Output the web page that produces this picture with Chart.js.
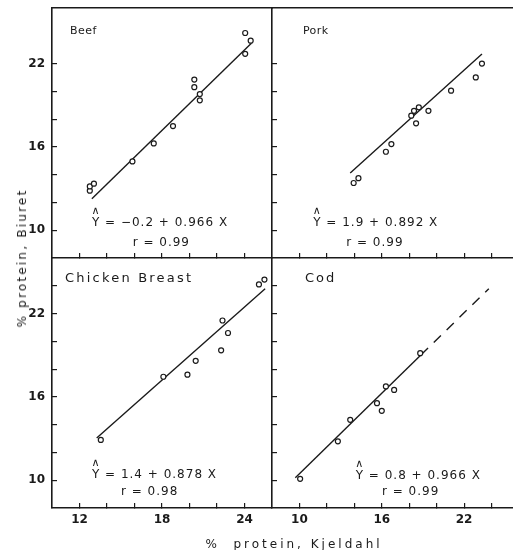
<!DOCTYPE html>
<html>
<head>
<meta charset="utf-8">
<script src="https://cdn.jsdelivr.net/npm/chart.js@4.4.1/dist/chart.umd.min.js"></script>
<style>
  body { margin: 0; background: #fff; overflow: hidden; }
  #figure { position: relative; width: 513px; height: 550px; overflow: hidden; background: #fff; }
  #figure canvas { position: absolute; }
  .axisTitle { position: absolute; font-family: "DejaVu Sans", sans-serif; font-size: 12px; color: #1a1a1a; white-space: pre; }
  #yTitle { left: 22px; top: 258px; letter-spacing: 2.2px; transform: translate(-50%, -50%) rotate(-90deg); }
  #xTitle { left: 294px; top: 544px; letter-spacing: 3px; transform: translate(-50%, -50%); }
</style>
</head>
<body>
<div id="figure">
  <canvas id="beefChart"></canvas>
  <canvas id="porkChart"></canvas>
  <canvas id="chickenChart"></canvas>
  <canvas id="codChart"></canvas>
  <div id="yTitle" class="axisTitle">% protein, Biuret</div>
  <div id="xTitle" class="axisTitle">%  protein, Kjeldahl</div>
</div>
<script>
const INK = "#1a1a1a";

// Kjeldahl (x) vs Biuret (y) protein, one pair of arrays per meat
const beefX = [12.75, 12.75, 13.05, 15.85, 17.4, 18.8, 20.35, 20.35, 20.75, 20.75, 24.05, 24.45, 24.05];
const beefY = [12.85, 13.15, 13.35, 14.95, 16.25, 17.5, 20.85, 20.3, 19.8, 19.35, 24.2, 23.65, 22.7];

const porkX = [13.95, 14.3, 16.3, 16.7, 18.15, 18.35, 18.7, 18.5, 19.4, 21.05, 22.85, 23.3];
const porkY = [13.4, 13.75, 15.65, 16.2, 18.25, 18.6, 18.85, 17.7, 18.6, 20.05, 21.0, 22.0];

const chickenX = [13.55, 18.1, 19.85, 20.45, 22.3, 22.4, 22.8, 25.05, 25.45];
const chickenY = [12.9, 17.45, 17.6, 18.6, 19.35, 21.5, 20.6, 24.1, 24.45];

const codX = [10.05, 12.8, 13.7, 15.65, 16.0, 16.3, 16.9, 18.8];
const codY = [10.1, 12.8, 14.35, 15.55, 15.0, 16.75, 16.5, 19.15];

// regression lines: intercept, slope, r and the x span each line covers
const panelNames = ["Beef", "Pork", "Chicken Breast", "Cod"];
const intercepts = [-0.2, 1.9, 1.4, 0.8];
const slopes = [0.966, 0.892, 0.878, 0.966];
const rValues = [0.99, 0.99, 0.98, 0.99];
const fitRanges = [[12.9, 24.5], [13.7, 23.3], [13.25, 25.5], [9.7, 18.85]];
const codExtension = [18.85, 23.8];

// tick positions and the ones that carry a label
const xTicksLeft = [12, 14, 16, 18, 20, 22, 24];
const xLabelsLeft = [12, 18, 24];
const xTicksRight = [10, 12, 14, 16, 18, 20, 22, 24];
const xLabelsRight = [10, 16, 22];
const yTicksUpper = [10, 12, 14, 16, 18, 20, 22];
const yTicksLower = [10, 12, 14, 16, 18, 20, 22, 24];
const yLabels = [10, 16, 22];

function toPoints(xs, ys) {
  return xs.map((x, i) => ({ x: x, y: ys[i] }));
}

function fitLine(index, span) {
  return span.map((x) => ({ x: x, y: intercepts[index] + slopes[index] * x }));
}

function equationText(index) {
  const a = intercepts[index];
  const aText = a < 0 ? "\u2212" + Math.abs(a).toFixed(1) : a.toFixed(1);
  return "Y = " + aText + " + " + slopes[index].toFixed(3) + " X";
}

// fixed axis sizes so the four frames butt together
function fixSize(scale, width, height) {
  if (width !== null) scale.width = width;
  if (height !== null) scale.height = height;
  scale.paddingTop = 0;
  scale.paddingBottom = 0;
  scale.paddingLeft = 0;
  scale.paddingRight = 0;
}

function makeNotes(items) {
  return {
    id: "notes",
    afterDraw(chart) {
      const { ctx, scales: { x, y } } = chart;
      ctx.save();
      ctx.fillStyle = INK;
      ctx.textBaseline = "middle";
      items.forEach((item) => {
        ctx.font = item.font;
        ctx.letterSpacing = item.spacing;
        ctx.textAlign = item.align;
        const px = x.getPixelForValue(item.x);
        const py = y.getPixelForValue(item.y);
        ctx.fillText(item.text, px, py);
        // hat over the Y of the fitted equation
        if (item.hat) {
          const w = ctx.measureText("Y").width;
          ctx.font = '11px "DejaVu Sans"';
          ctx.letterSpacing = "0px";
          ctx.textAlign = "center";
          ctx.fillText("\u2227", px + w / 2 - 0.5, py - 12);
        }
      });
      ctx.restore();
    },
  };
}

function tickFont() {
  return { family: "DejaVu Sans", size: 12, weight: "bold" };
}

function makePanel(cfg) {
  const canvas = document.getElementById(cfg.id);
  canvas.width = cfg.w;
  canvas.height = cfg.h;
  canvas.style.left = cfg.left + "px";
  canvas.style.top = cfg.top + "px";

  const i = cfg.index;
  const datasets = [
    {
      data: toPoints(cfg.xs, cfg.ys),
      pointStyle: "circle",
      pointRadius: 2.5,
      borderWidth: 1.2,
      borderColor: INK,
      backgroundColor: "#fff",
      order: 0,
    },
    {
      data: fitLine(i, fitRanges[i]),
      showLine: true,
      pointRadius: 0,
      borderWidth: 1.4,
      borderColor: INK,
      order: 1,
    },
  ];
  if (cfg.extension) {
    datasets.push({
      data: fitLine(i, cfg.extension),
      showLine: true,
      pointRadius: 0,
      borderWidth: 1.4,
      borderColor: INK,
      borderDash: [10, 8],
      order: 1,
    });
  }

  const eqFont = '12px "DejaVu Sans"';
  const notes = [
    { text: panelNames[i], x: cfg.nameAt[0], y: cfg.nameAt[1], align: "left", font: cfg.nameFont, spacing: cfg.nameSpacing },
    { text: equationText(i), x: cfg.eqAt[0], y: cfg.eqAt[1], align: "left", font: eqFont, spacing: "1px", hat: true },
    { text: "r = " + rValues[i].toFixed(2), x: cfg.rAt[0], y: cfg.rAt[1], align: "center", font: eqFont, spacing: "1px" },
  ];

  const scales = {
    x: {
      type: "linear",
      min: cfg.xMin,
      max: cfg.xMax,
      afterBuildTicks: (scale) => { scale.ticks = cfg.xTicks.map((v) => ({ value: v })); },
      afterFit: (scale) => fixSize(scale, null, cfg.xAxisHeight),
      grid: { display: true, drawOnChartArea: false, drawTicks: true, tickLength: -5, color: INK, lineWidth: 1.2 },
      border: { display: true, color: INK, width: 1.6 },
      ticks: {
        display: cfg.xLabels.length > 0,
        autoSkip: false,
        maxRotation: 0,
        padding: 10,
        color: INK,
        font: tickFont(),
        callback: (v) => (cfg.xLabels.includes(v) ? String(v) : ""),
      },
    },
    y: {
      type: "linear",
      min: 8,
      max: 26,
      afterBuildTicks: (scale) => { scale.ticks = cfg.yTicks.map((v) => ({ value: v })); },
      afterFit: (scale) => fixSize(scale, cfg.yAxisWidth, null),
      grid: { display: true, drawOnChartArea: false, drawTicks: true, tickLength: -5, color: INK, lineWidth: 1.2 },
      border: { display: true, color: INK, width: 1.6 },
      ticks: {
        display: cfg.yLabels.length > 0,
        autoSkip: false,
        padding: 12,
        color: INK,
        font: tickFont(),
        callback: (v) => (cfg.yLabels.includes(v) ? String(v) : ""),
      },
    },
  };
  // upper panels carry the top frame line
  if (cfg.topEdge) {
    scales.xTop = {
      type: "linear",
      position: "top",
      afterFit: (scale) => fixSize(scale, null, 0),
      grid: { display: false },
      ticks: { display: false },
      border: { display: true, color: INK, width: 1.6 },
    };
  }

  new Chart(canvas, {
    type: "scatter",
    data: { datasets: datasets },
    options: {
      responsive: false,
      animation: false,
      events: [],
      layout: { padding: cfg.padding },
      plugins: { legend: { display: false }, tooltip: { enabled: false } },
      scales: scales,
    },
    plugins: [makeNotes(notes)],
  });
}

makePanel({
  id: "beefChart", index: 0, xs: beefX, ys: beefY,
  left: 0, top: 0, w: 280, h: 266,
  padding: { top: 8, right: 8, bottom: 8, left: 0 },
  xMin: 10, xMax: 26, yAxisWidth: 52, xAxisHeight: 0,
  xTicks: xTicksLeft, xLabels: [], yTicks: yTicksUpper, yLabels: yLabels, topEdge: true,
  nameAt: [11.3, 24.3], nameFont: '11px "DejaVu Sans"', nameSpacing: "0.5px",
  eqAt: [12.9, 10.5], rAt: [17.95, 9.1],
});

makePanel({
  id: "porkChart", index: 1, xs: porkX, ys: porkY,
  left: 264, top: 0, w: 264, h: 266,
  padding: { top: 8, right: 9, bottom: 8, left: 0 },
  xMin: 8, xMax: 26, yAxisWidth: 8, xAxisHeight: 0,
  xTicks: xTicksRight, xLabels: [], yTicks: yTicksUpper, yLabels: [], topEdge: true,
  nameAt: [10.25, 24.35], nameFont: '11px "DejaVu Sans"', nameSpacing: "0.5px",
  eqAt: [11.0, 10.5], rAt: [15.5, 9.1],
});

makePanel({
  id: "chickenChart", index: 2, xs: chickenX, ys: chickenY,
  left: 0, top: 250, w: 280, h: 300,
  padding: { top: 8, right: 8, bottom: 0, left: 0 },
  xMin: 10, xMax: 26, yAxisWidth: 52, xAxisHeight: 42,
  xTicks: xTicksLeft, xLabels: xLabelsLeft, yTicks: yTicksLower, yLabels: yLabels, topEdge: false,
  nameAt: [10.95, 24.55], nameFont: '13px "DejaVu Sans"', nameSpacing: "2.2px",
  eqAt: [12.9, 10.4], rAt: [17.1, 9.15],
});

makePanel({
  id: "codChart", index: 3, xs: codX, ys: codY, extension: codExtension,
  left: 264, top: 250, w: 264, h: 300,
  padding: { top: 8, right: 9, bottom: 0, left: 0 },
  xMin: 8, xMax: 26, yAxisWidth: 8, xAxisHeight: 42,
  xTicks: xTicksRight, xLabels: xLabelsRight, yTicks: yTicksLower, yLabels: [], topEdge: false,
  nameAt: [10.4, 24.55], nameFont: '13px "DejaVu Sans"', nameSpacing: "2px",
  eqAt: [14.1, 10.3], rAt: [18.1, 9.15],
});
</script>
</body>
</html>
